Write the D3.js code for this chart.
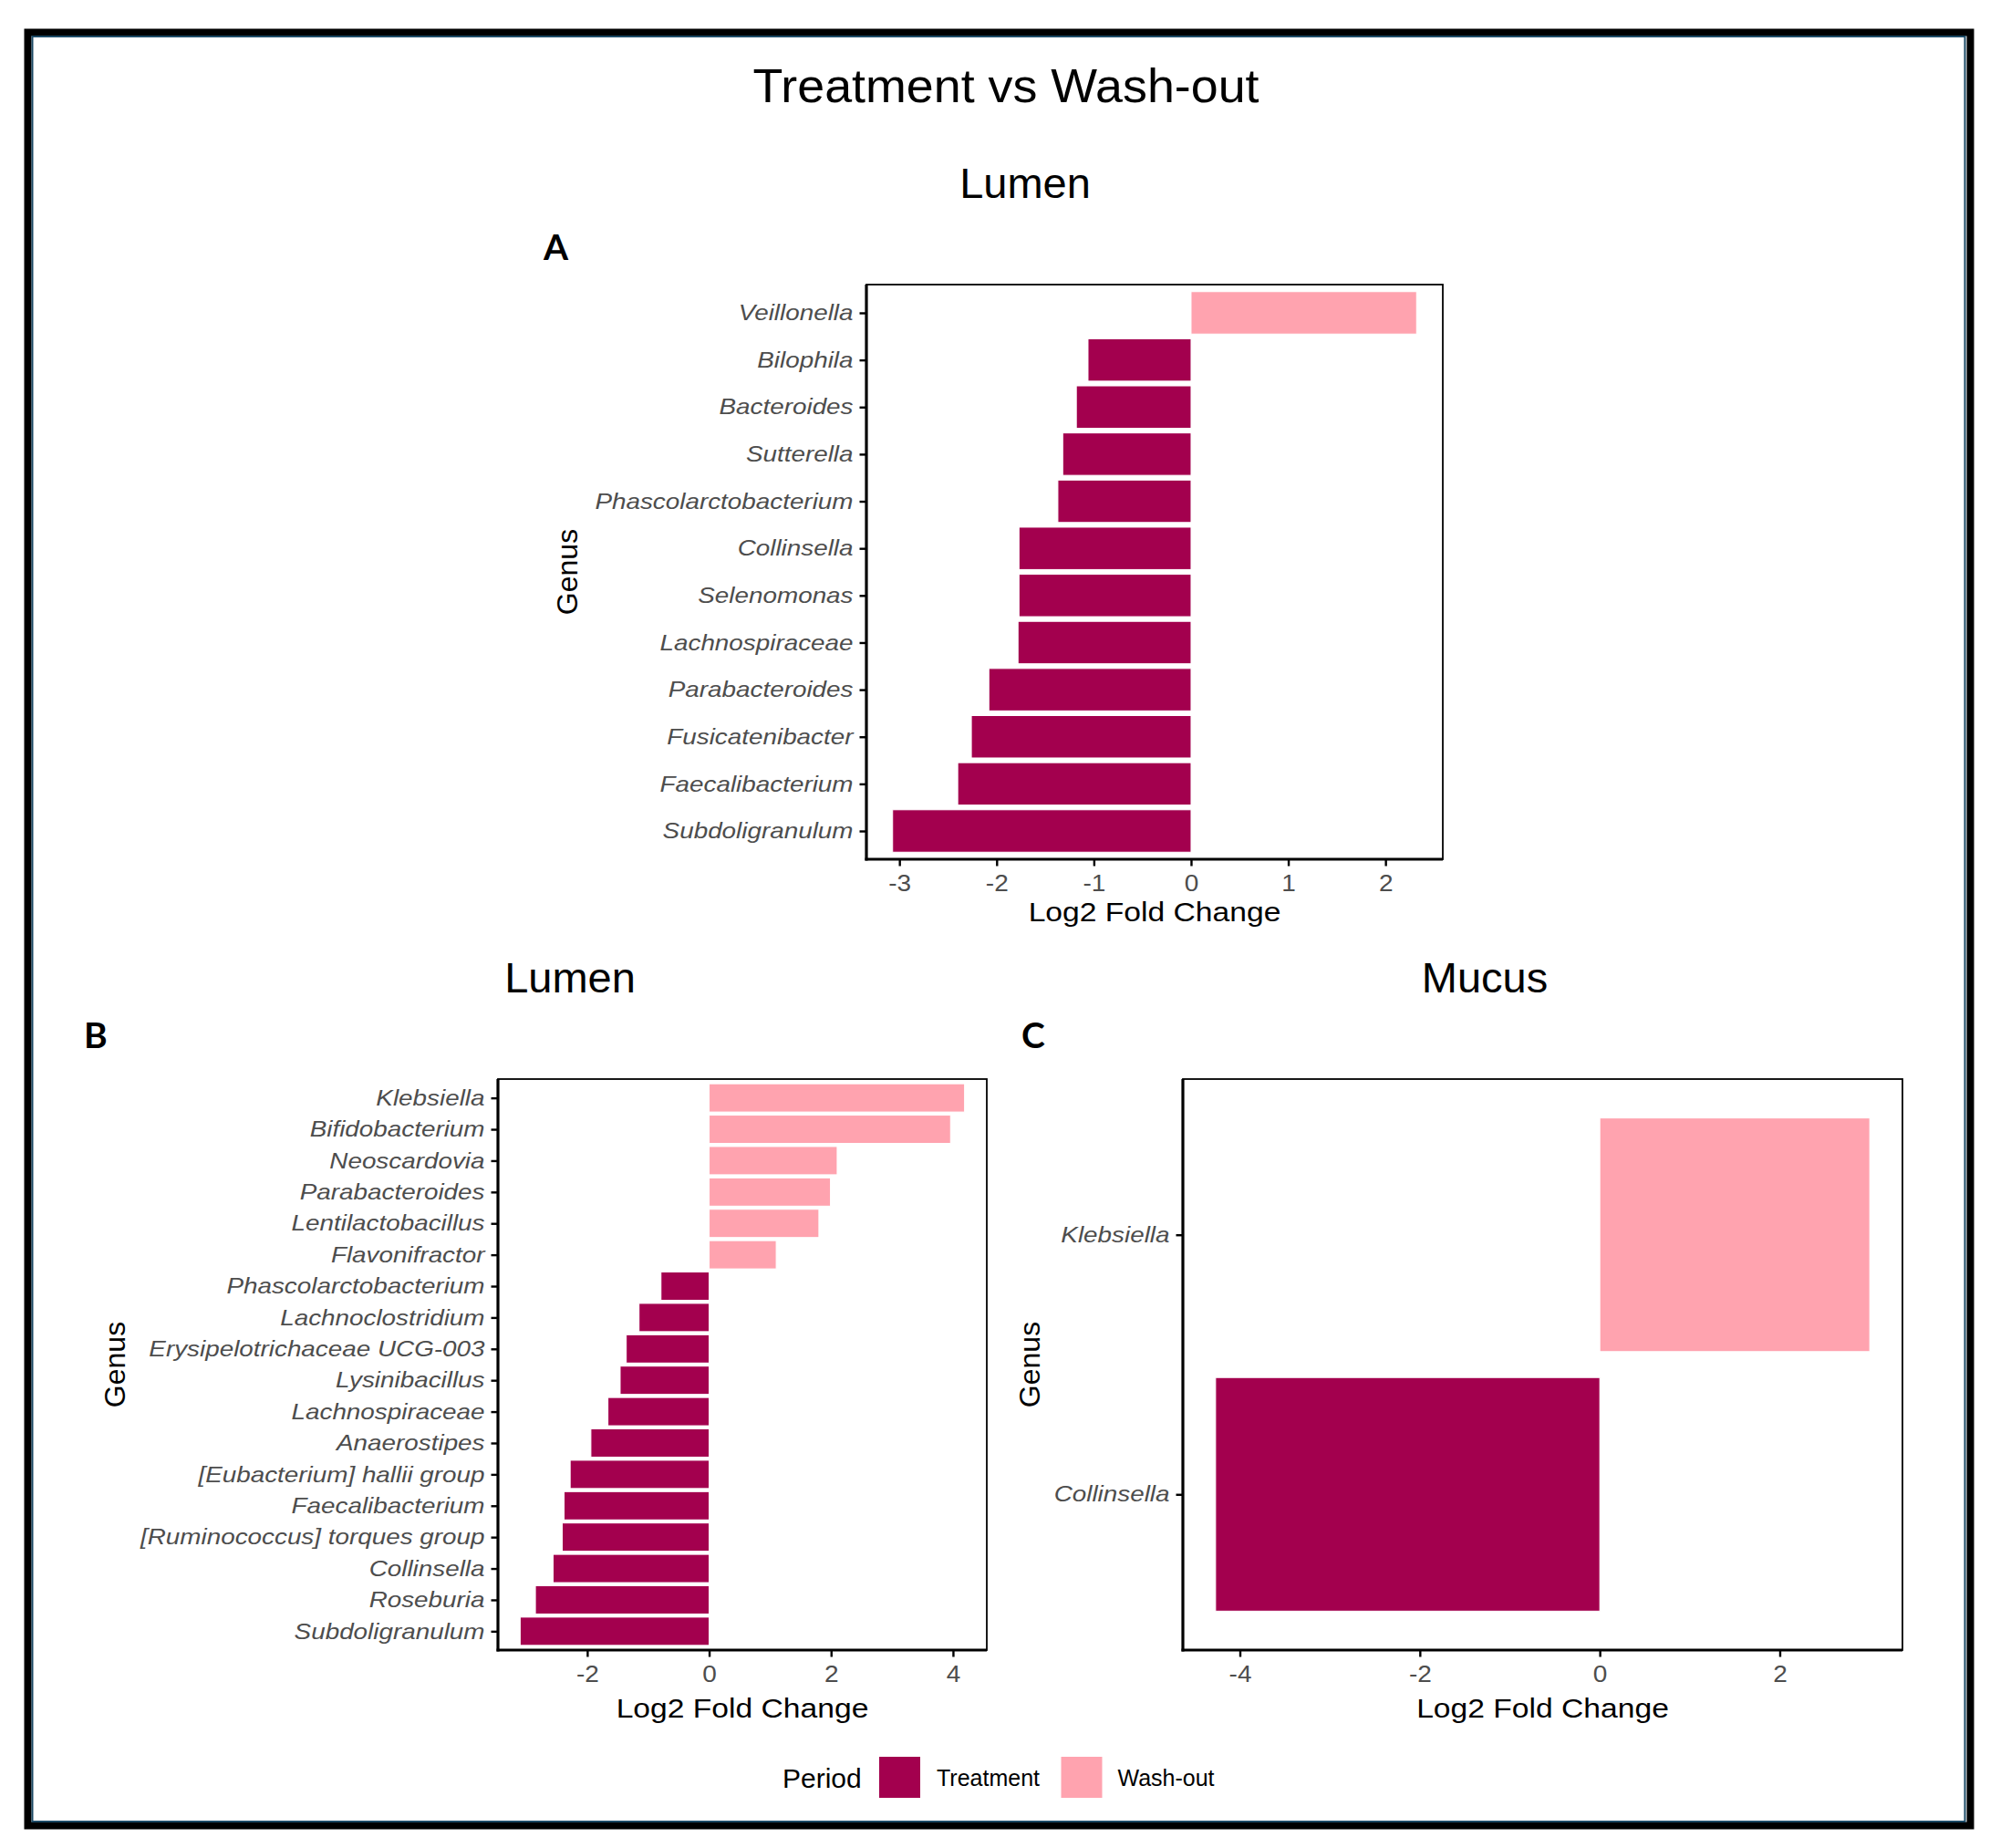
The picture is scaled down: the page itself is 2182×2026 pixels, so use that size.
<!DOCTYPE html>
<html>
<head>
<meta charset="utf-8">
<script src="https://d3js.org/d3.v7.min.js"></script>
<style>
  html, body { margin: 0; padding: 0; background: #fff; }
  svg { display: block; font-family: "Liberation Sans", Arial, sans-serif; }
</style>
</head>
<body>
<div id="chart"></div>
<script>
// ---- data ----
// genera listed top -> bottom, log2 fold change per genus
const genusA = ["Veillonella", "Bilophila", "Bacteroides", "Sutterella", "Phascolarctobacterium",
  "Collinsella", "Selenomonas", "Lachnospiraceae", "Parabacteroides", "Fusicatenibacter",
  "Faecalibacterium", "Subdoligranulum"];
const lfcA = [2.32, -1.06, -1.18, -1.32, -1.37, -1.77, -1.77, -1.78, -2.08, -2.26, -2.40, -3.07];

const genusB = ["Klebsiella", "Bifidobacterium", "Neoscardovia", "Parabacteroides", "Lentilactobacillus",
  "Flavonifractor", "Phascolarctobacterium", "Lachnoclostridium", "Erysipelotrichaceae UCG-003",
  "Lysinibacillus", "Lachnospiraceae", "Anaerostipes", "[Eubacterium] hallii group", "Faecalibacterium",
  "[Ruminococcus] torques group", "Collinsella", "Roseburia", "Subdoligranulum"];
const lfcB = [4.19, 3.96, 2.10, 1.99, 1.80, 1.10, -0.79, -1.15, -1.36, -1.46, -1.66, -1.94,
  -2.28, -2.38, -2.41, -2.56, -2.85, -3.10];

const genusC = ["Klebsiella", "Collinsella"];
const lfcC = [3.00, -4.27];

const periods = ["Treatment", "Wash-out"];
const periodColors = ["#A3004E", "#FFA3AF"];

const xTicksA = [-3, -2, -1, 0, 1, 2];
const xTicksB = [-2, 0, 2, 4];
const xTicksC = [-4, -2, 0, 2];

(function() {
  const W = 2182, H = 2026;
  const svg = d3.select("#chart").append("svg")
    .attr("width", W).attr("height", H)
    .attr("viewBox", `0 0 ${W} ${H}`);

  svg.append("rect").attr("width", W).attr("height", H).attr("fill", "#fff");

  const color = d3.scaleOrdinal().domain(periods).range(periodColors);
  // positive change = higher in Wash-out
  const periodOf = v => v > 0 ? "Wash-out" : "Treatment";

  // outer frame
  svg.append("rect")
    .attr("x", 30.5).attr("y", 35.5).attr("width", 2130).attr("height", 1966)
    .attr("fill", "none").attr("stroke", "#000").attr("stroke-width", 8);
  svg.append("rect")
    .attr("x", 35.5).attr("y", 40).attr("width", 2119).attr("height", 1957)
    .attr("fill", "none").attr("stroke", "#1c4a66").attr("stroke-width", 2);

  // stretched text helper (ggplot panels were pasted slightly widened)
  function stext(g, x, y, txt, size, sx, anchor) {
    return g.append("text")
      .attr("transform", `translate(${x},${y}) scale(${sx},1)`)
      .attr("text-anchor", anchor || "start")
      .attr("font-size", size)
      .text(txt);
  }

  function drawPanel(cfg) {
    const g = svg.append("g");
    const n = cfg.genus.length;
    const ext = d3.extent(cfg.lfc);
    const pad = (ext[1] - ext[0]) * 0.05;
    const x = d3.scaleLinear().domain([ext[0] - pad, ext[1] + pad]).range([cfg.left, cfg.right]);
    const y = d3.scaleLinear().domain([0.4, n + 0.6]).range([cfg.bottom, cfg.top]);
    const pos = i => n - i;

    const rows = cfg.genus.map((name, i) => ({ name, v: cfg.lfc[i], p: pos(i) }));

    g.selectAll("rect.bar").data(rows).enter().append("rect")
      .attr("class", "bar")
      .attr("x", d => x(Math.min(0, d.v)))
      .attr("width", d => Math.abs(x(d.v) - x(0)))
      .attr("y", d => y(d.p + 0.45))
      .attr("height", d => y(d.p - 0.45) - y(d.p + 0.45))
      .attr("fill", d => color(periodOf(d.v)))
      .attr("stroke", "#fff")
      .attr("stroke-width", 1);

    // panel border + heavier axis lines
    g.append("rect")
      .attr("x", cfg.left).attr("y", cfg.top)
      .attr("width", cfg.right - cfg.left).attr("height", cfg.bottom - cfg.top)
      .attr("fill", "none").attr("stroke", "#000").attr("stroke-width", 1.8);
    g.append("line").attr("x1", cfg.left).attr("x2", cfg.left)
      .attr("y1", cfg.top).attr("y2", cfg.bottom + 1.5)
      .attr("stroke", "#000").attr("stroke-width", 3.2);
    g.append("line").attr("x1", cfg.left - 1.5).attr("x2", cfg.right)
      .attr("y1", cfg.bottom).attr("y2", cfg.bottom)
      .attr("stroke", "#000").attr("stroke-width", 3.2);

    // y axis
    const sxT = 1.16;
    const yAxis = g.append("g").attr("transform", `translate(${cfg.left},0)`)
      .call(d3.axisLeft(y).tickValues(rows.map(r => r.p))
        .tickFormat(p => cfg.genus[n - p]).tickSize(7.5).tickPadding(7));
    yAxis.select(".domain").remove();
    yAxis.selectAll(".tick line").attr("stroke", "#000").attr("stroke-width", 2.4);
    yAxis.selectAll(".tick text")
      .attr("x", -14.5 / sxT)
      .attr("transform", `scale(${sxT},1)`)
      .attr("fill", "#4d4d4d")
      .attr("font-style", "italic")
      .attr("font-size", 24)
      .attr("font-family", "'Liberation Sans', Arial, sans-serif");

    // x axis
    const xAxis = g.append("g").attr("transform", `translate(0,${cfg.bottom})`)
      .call(d3.axisBottom(x).tickValues(cfg.ticks)
        .tickFormat(d => String(d)).tickSize(7.5).tickPadding(10));
    xAxis.select(".domain").remove();
    xAxis.selectAll(".tick line").attr("stroke", "#000").attr("stroke-width", 2.4);
    xAxis.selectAll(".tick text")
      .attr("transform", "scale(1.12,1)")
      .attr("fill", "#4d4d4d")
      .attr("font-size", 25)
      .attr("font-family", "'Liberation Sans', Arial, sans-serif");

    // axis titles
    stext(g, (cfg.left + cfg.right) / 2, cfg.xTitleY, "Log2 Fold Change", 29, 1.16, "middle");
    g.append("text")
      .attr("transform", `translate(${cfg.genusX},${(cfg.top + cfg.bottom) / 2}) rotate(-90)`)
      .attr("text-anchor", "middle")
      .attr("font-size", 32)
      .text("Genus");
  }

  drawPanel({ genus: genusA, lfc: lfcA, ticks: xTicksA,
    left: 950, right: 1582, top: 312, bottom: 942, xTitleY: 1010, genusX: 633 });
  drawPanel({ genus: genusB, lfc: lfcB, ticks: xTicksB,
    left: 546, right: 1082, top: 1183, bottom: 1809, xTitleY: 1883, genusX: 137 });
  drawPanel({ genus: genusC, lfc: lfcC, ticks: xTicksC,
    left: 1297, right: 2086, top: 1183, bottom: 1809, xTitleY: 1883, genusX: 1140 });

  // titles
  stext(svg, 1103, 112, "Treatment vs Wash-out", 51, 1.055, "middle");
  svg.append("text").attr("x", 1124).attr("y", 217).attr("text-anchor", "middle")
    .attr("font-size", 47).text("Lumen");
  svg.append("text").attr("x", 625).attr("y", 1088).attr("text-anchor", "middle")
    .attr("font-size", 47).text("Lumen");
  svg.append("text").attr("x", 1628).attr("y", 1088).attr("text-anchor", "middle")
    .attr("font-size", 47).text("Mucus");

  // panel letters
  const letters = [["A", 596, 285], ["B", 92, 1149], ["C", 1120, 1149]];
  svg.selectAll("text.letter").data(letters).enter().append("text")
    .attr("class", "letter")
    .attr("x", d => d[1]).attr("y", d => d[2])
    .attr("font-family", "Lato, 'Open Sans', sans-serif")
    .attr("font-weight", "bold")
    .attr("font-size", 39)
    .text(d => d[0]);

  // legend
  const leg = svg.append("g");
  leg.append("text").attr("x", 858).attr("y", 1960).attr("font-size", 30).text("Period");
  const keyX = [963.5, 1163];
  const labX = [1027, 1225.5];
  periods.forEach((p, i) => {
    leg.append("rect")
      .attr("x", keyX[i]).attr("y", 1925.5).attr("width", 46).attr("height", 46)
      .attr("fill", color(p)).attr("stroke", "#fff").attr("stroke-width", 1);
    leg.append("text").attr("x", labX[i]).attr("y", 1958).attr("font-size", 25).text(p);
  });
})();
</script>
</body>
</html>
